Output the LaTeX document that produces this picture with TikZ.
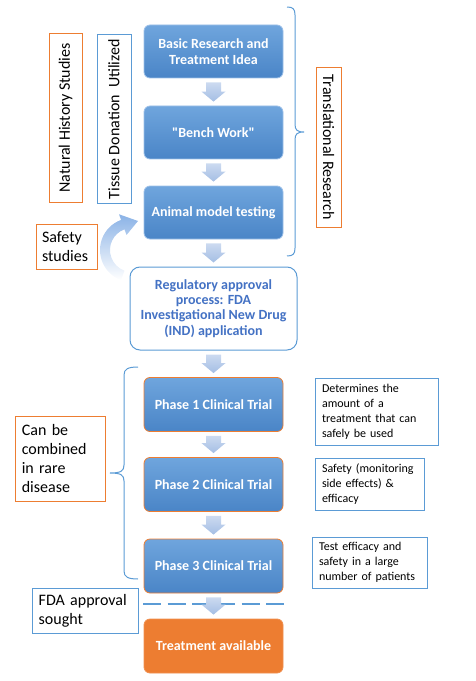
\documentclass[tikz,border=0pt]{standalone}
\usepackage{fontspec}
\setmainfont{Carlito}[Ligatures=TeXOff]
\usetikzlibrary{calc}
\definecolor{boxtop}{HTML}{6FA5DD}
\definecolor{boxbot}{HTML}{4A85C7}
\definecolor{boxedge}{HTML}{9DC0E8}
\definecolor{orangeC}{HTML}{ED7D31}
\definecolor{lblue}{HTML}{5B9BD5}
\definecolor{regtext}{HTML}{4472C4}
\definecolor{arrtop}{HTML}{CCDAF0}
\definecolor{arrbot}{HTML}{A4BEE4}
\definecolor{carrow}{HTML}{8AB2E6}
\newcommand{\downarr}[2]{%
  \path ($(#1.south)+(0,4)$) coordinate (at) ($(#2.north)+(0,-4)$) coordinate (ab);
  \shade[top color=arrtop,bottom color=arrbot]
    ($(at)+(-7.5,0)$) -- ($(at)+(7.5,0)$) -- ($(ab)+(7.5,-10)$) -- ($(ab)+(12,-10)$)
    -- (ab) -- ($(ab)+(-12,-10)$) -- ($(ab)+(-7.5,-10)$) -- cycle;}
\begin{document}
\begin{tikzpicture}[x=0.75pt,y=-0.75pt,
  mainbox/.style={rounded corners=4.5pt, minimum width=104.25pt, minimum height=39.75pt,
    top color=boxtop, bottom color=boxbot, draw=boxedge, line width=0.6pt,
    text=white, font=\fontsize{10.5}{11.5}\selectfont\bfseries, align=center, inner sep=2pt},
  phasebox/.style={mainbox, draw=orangeC, minimum height=40.5pt},
  regbox/.style={rounded corners=7.5pt, minimum width=125.25pt, minimum height=62.25pt,
    fill=white, draw=lblue, line width=0.75pt, text=regtext,
    font=\fontsize{10.5}{11.5}\selectfont\bfseries, align=center},
  treatbox/.style={rounded corners=4.5pt, minimum width=104.25pt, minimum height=40.5pt,
    fill=orangeC, draw=orangeC!85!white, line width=0.6pt, text=white,
    font=\fontsize{10.5}{11.5}\selectfont\bfseries},
  lbl/.style={draw, line width=0.75pt, font=\fontsize{12}{14.5}\selectfont, inner sep=0pt},
  lblleft/.style={draw, line width=0.75pt, font=\fontsize{12}{14.5}\selectfont,
    align=left, inner xsep=5pt, inner ysep=0pt},
  note/.style={draw=lblue, line width=0.75pt, font=\fontsize{9}{11.25}\selectfont,
    align=left, inner xsep=5.25pt, inner ysep=0pt},
  bracestyle/.style={draw=lblue, line width=0.75pt}
]
\useasboundingbox (0,0) rectangle (475,681);

% main flow
\node[mainbox] (b1) at (213.5,51.5) {Basic Research and\\Treatment Idea};
\node[mainbox] (b2) at (213.5,132.5) {"Bench Work"};
\node[mainbox] (b3) at (213.5,212.5) {Animal model testing};
\node[regbox] (reg) at (213.5,308.5) {Regulatory approval\\process: FDA\\Investigational New Drug\\(IND) application};
\node[phasebox] (p1) at (213.5,404.5) {Phase 1 Clinical Trial};
\node[phasebox] (p2) at (213.5,484.5) {Phase 2 Clinical Trial};
\node[phasebox] (p3) at (213.5,566) {Phase 3 Clinical Trial};
\node[treatbox] (tr) at (213.5,646) {Treatment available};

\downarr{b1}{b2}
\downarr{b2}{b3}
\downarr{b3}{reg}
\downarr{reg}{p1}
\downarr{p1}{p2}
\downarr{p2}{p3}
% dashed separator
\coordinate (dL) at (143,604);
\coordinate (dR) at (287,604);
\draw[lblue, line width=1.5pt, dash pattern=on 13.5pt off 5pt] (dL) -- (dR);
\downarr{p3}{tr}

% left vertical labels
\node[lbl, draw=orangeC, rotate=90, minimum width=126pt, minimum height=24.75pt] (nat) at (65.5,118) {Natural History Studies};
\node[lbl, draw=lblue, rotate=90, minimum width=126pt, minimum height=25.5pt] (tis) at (114,119) {Tissue Donation~~Utilized};
\node[lbl, draw=orangeC, rotate=-90, minimum width=119.25pt, minimum height=18.75pt] (trans) at (328.5,147.5) {Translational Research};

% safety studies + curved arrow
\node[lblleft, draw=orangeC, text width=36.75pt, inner xsep=4.5pt, minimum height=33.75pt] (saf) at (66.5,246.5) {Safety\\studies};
\shade[top color=carrow, bottom color=white]
  ([shift={(132,250)}]110:32) arc[start angle=110, end angle=250, radius=32]
  -- ([shift={(132,250)}]250:38)
  -- (138,221)
  -- ([shift={(132,250)}]250:16)
  -- ([shift={(132,250)}]250:22)
  arc[start angle=250, end angle=110, radius=22] -- cycle;

% braces
\draw[bracestyle] (287,7) .. controls (293,7) and (295,9) .. (295,15) -- (295,124)
  .. controls (295,130) and (297,132) .. (304,132)
  .. controls (297,132) and (295,134) .. (295,140) -- (295,248)
  .. controls (295,254) and (293,256) .. (287,256);
\draw[bracestyle] (138,367) .. controls (128,367) and (124,369) .. (124,375) -- (124,465)
  .. controls (124,471) and (121,473) .. (110,473)
  .. controls (121,473) and (124,475) .. (124,481) -- (124,571)
  .. controls (124,577) and (128,579) .. (138,579);

% left boxes
\node[lblleft, draw=orangeC, text width=58pt, minimum height=63.75pt] (comb) at (60.5,458.5) {Can be\\combined\\in rare\\disease};
\node[lblleft, draw=lblue, text width=69.5pt, minimum height=33.75pt] (fda) at (85,610.5) {FDA approval\\sought};

% right notes
\node[note, text width=81.75pt, minimum height=50.25pt] (n1) at (376.5,411.5) {Determines the\\amount of a\\treatment that can\\safely be used};
\node[note, text width=71.25pt, minimum height=39pt] (n2) at (369.5,484) {Safety (monitoring\\side effects) \&\\efficacy};
\node[note, text width=75.75pt, minimum height=38.25pt] (n3) at (369.5,562.5) {Test efficacy and\\safety in a large\\number of patients};
\end{tikzpicture}
\end{document}
